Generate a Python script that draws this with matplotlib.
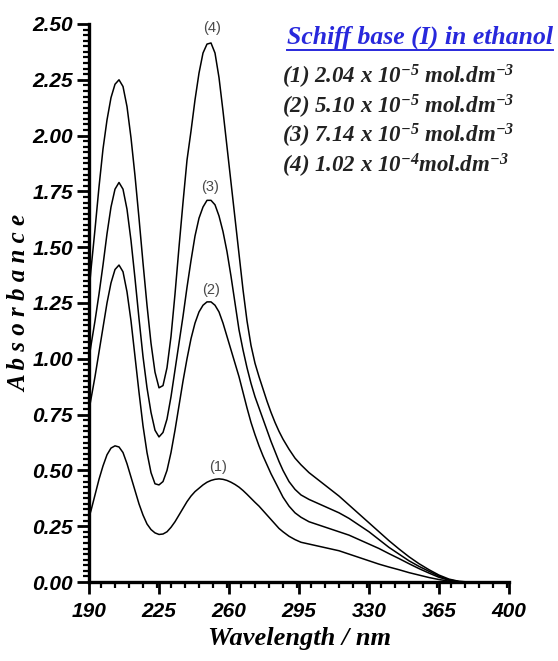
import matplotlib
matplotlib.use("Agg")
import matplotlib.pyplot as plt
from matplotlib.lines import Line2D
from matplotlib.ticker import MultipleLocator, FixedLocator

# ---------------- data ----------------
wavelength = [190, 191, 193, 195, 197, 199, 201, 203, 205, 207, 209, 211, 213, 215,
              217, 219, 221, 223, 225, 227, 229, 231, 233, 235, 237, 239, 241, 243,
              245, 247, 249, 251, 253, 255, 257, 259, 261, 263, 265, 267, 269, 271,
              273, 275, 277, 279, 281, 283, 285, 287, 290, 293, 296, 300, 305, 310,
              315, 320, 325, 330, 335, 340, 345, 350, 355, 360, 365, 370, 375, 380]

abs_1 = [0.29, 0.32, 0.39, 0.46, 0.52, 0.57, 0.60, 0.61, 0.605, 0.58, 0.53, 0.47, 0.41, 0.35,
         0.30, 0.26, 0.235, 0.22, 0.213, 0.215, 0.225, 0.245, 0.27, 0.30, 0.33, 0.36, 0.385, 0.405,
         0.42, 0.435, 0.447, 0.455, 0.46, 0.462, 0.46, 0.455, 0.447, 0.437, 0.425, 0.41, 0.393, 0.375,
         0.357, 0.34, 0.32, 0.30, 0.28, 0.26, 0.24, 0.225, 0.205, 0.19, 0.178, 0.17, 0.16, 0.15,
         0.14, 0.125, 0.11, 0.095, 0.08, 0.067, 0.055, 0.042, 0.031, 0.02, 0.011, 0.004, 0.0, 0.0]

abs_2 = [0.77, 0.82, 0.92, 1.03, 1.14, 1.25, 1.34, 1.40, 1.42, 1.39, 1.30, 1.17, 1.01, 0.85,
         0.70, 0.58, 0.49, 0.44, 0.435, 0.45, 0.50, 0.58, 0.68, 0.79, 0.90, 1.00, 1.09, 1.16,
         1.21, 1.24, 1.255, 1.255, 1.24, 1.21, 1.16, 1.10, 1.04, 0.98, 0.92, 0.85, 0.78, 0.715,
         0.66, 0.61, 0.565, 0.525, 0.485, 0.45, 0.415, 0.38, 0.34, 0.31, 0.29, 0.27, 0.255, 0.24,
         0.225, 0.21, 0.19, 0.17, 0.15, 0.127, 0.105, 0.082, 0.06, 0.04, 0.021, 0.008, 0.001, 0.0]

abs_3 = [1.00, 1.06, 1.17, 1.29, 1.42, 1.56, 1.68, 1.76, 1.79, 1.76, 1.67, 1.53, 1.36, 1.18,
         1.01, 0.87, 0.76, 0.68, 0.65, 0.67, 0.73, 0.83, 0.95, 1.07, 1.19, 1.32, 1.44, 1.55,
         1.63, 1.68, 1.71, 1.71, 1.69, 1.64, 1.57, 1.48, 1.37, 1.25, 1.13, 1.04, 0.96, 0.89,
         0.83, 0.78, 0.73, 0.68, 0.63, 0.585, 0.54, 0.50, 0.45, 0.415, 0.39, 0.37, 0.35, 0.33,
         0.31, 0.285, 0.255, 0.225, 0.19, 0.155, 0.125, 0.095, 0.07, 0.048, 0.026, 0.01, 0.002, 0.0]

abs_4 = [1.30, 1.40, 1.58, 1.77, 1.94, 2.07, 2.17, 2.23, 2.25, 2.22, 2.13, 1.99, 1.82, 1.63,
         1.43, 1.24, 1.07, 0.94, 0.87, 0.88, 0.96, 1.10, 1.29, 1.50, 1.70, 1.89, 2.02, 2.16,
         2.28, 2.37, 2.41, 2.415, 2.37, 2.26, 2.11, 1.95, 1.79, 1.63, 1.47, 1.31, 1.17, 1.06,
         0.98, 0.92, 0.865, 0.81, 0.76, 0.715, 0.675, 0.64, 0.595, 0.555, 0.525, 0.49, 0.455, 0.42,
         0.385, 0.345, 0.305, 0.265, 0.225, 0.185, 0.148, 0.113, 0.082, 0.055, 0.031, 0.013, 0.003, 0.0]

series = [abs_1, abs_2, abs_3, abs_4]
curve_tags = ["(1)", "(2)", "(3)", "(4)"]
tag_wl = [254.5, 251, 250.5, 251.5]
tag_abs = [0.515, 1.31, 1.77, 2.48]

x_ticks = [190, 225, 260, 295, 330, 365, 400]
y_ticks = [0.00, 0.25, 0.50, 0.75, 1.00, 1.25, 1.50, 1.75, 2.00, 2.25, 2.50]

title_text = "Schiff base (I) in ethanol"
conc_labels = [r"(1) 2.04 x 10$^{-5}$ mol.dm$^{-3}$",
               r"(2) 5.10 x 10$^{-5}$ mol.dm$^{-3}$",
               r"(3) 7.14 x 10$^{-5}$ mol.dm$^{-3}$",
               r"(4) 1.02 x 10$^{-4}$mol.dm$^{-3}$"]

# ---------------- style ----------------
plt.rcParams["mathtext.default"] = "regular"
narrow = ["Liberation Sans Narrow", "Liberation Sans", "DejaVu Sans"]
serif = ["Liberation Serif", "DejaVu Serif"]

fig = plt.figure(figsize=(5.58, 6.61), dpi=100)
ax = fig.add_axes([89 / 558, 79 / 661, 420 / 558, 558 / 661])

for ys in series:
    ax.plot(wavelength, ys, color="black", lw=1.1)

for tag, wx, wy in zip(curve_tags, tag_wl, tag_abs):
    ax.text(wx, wy, tag, ha="center", va="center", fontsize=10.5,
            family=narrow, color="#4a4a4a")

ax.set_xlim(190, 400)
ax.set_ylim(0, 2.5)
ax.xaxis.set_major_locator(FixedLocator(x_ticks))
ax.xaxis.set_minor_locator(MultipleLocator(7))
ax.yaxis.set_major_locator(FixedLocator(y_ticks))
ax.yaxis.set_minor_locator(MultipleLocator(0.025))
ax.set_xticklabels([str(v) for v in x_ticks])
ax.set_yticklabels([f"{v:.2f}" for v in y_ticks])

for s in ["top", "right"]:
    ax.spines[s].set_visible(False)
for s in ["left", "bottom"]:
    ax.spines[s].set_linewidth(2.4)

ax.tick_params(which="major", direction="out", length=8.5, width=2.0)
ax.tick_params(which="minor", direction="out", length=4.3, width=1.6)
ax.tick_params(axis="x", which="major", pad=6)
ax.tick_params(axis="y", which="major", pad=3)
for lab in ax.get_xticklabels() + ax.get_yticklabels():
    lab.set_family(narrow)
    lab.set_fontweight("bold")
    lab.set_fontstyle("italic")
    lab.set_fontsize(15)

ax.set_xlabel("Wavelength / nm", family=serif, fontweight="bold", fontstyle="italic",
              fontsize=19, labelpad=4)
ax.set_ylabel("A b s o r b a n c e", family=serif, fontweight="bold", fontstyle="italic",
              fontsize=18, labelpad=1)

# title & concentrations
t = fig.text(553 / 558, 1 - 37 / 661, title_text, ha="right", va="center",
             family=serif, fontweight="bold", fontstyle="italic", fontsize=18.5,
             color="#2828dc")
for i, lab in enumerate(conc_labels):
    fig.text(282 / 558, 1 - (77 + 29.5 * i) / 661, lab, ha="left", va="center",
             family=serif, fontweight="bold", fontstyle="italic", fontsize=16.5,
             color="#222222")

fig.canvas.draw()
bb = t.get_window_extent()
fig.add_artist(Line2D([bb.x0 / 558, bb.x1 / 558],
                      [(bb.y0 - 1) / 661, (bb.y0 - 1) / 661],
                      transform=fig.transFigure, color="#2828dc", lw=1.4))

fig.savefig("out.png", dpi=100)
